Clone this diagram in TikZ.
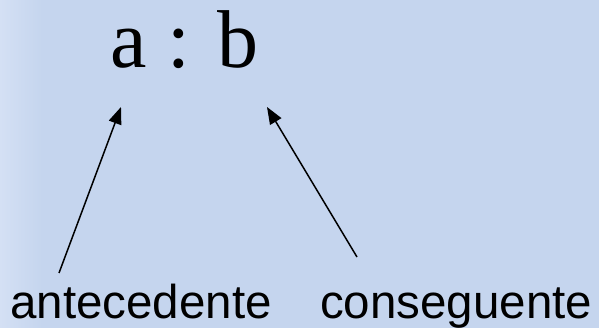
\documentclass[tikz,border=0pt]{standalone}
\usepackage{fontspec}
\setmainfont{Liberation Serif}
\newfontfamily\labelfont{Liberation Sans}
\usetikzlibrary{arrows.meta}
\definecolor{bgblue}{RGB}{197,213,238}
\definecolor{bgedge}{RGB}{212,224,244}
\begin{document}
\begin{tikzpicture}[x=1pt,y=-1pt,
  ratio/.style={inner sep=0pt,anchor=base west,font=\fontsize{82}{82}\selectfont},
  term/.style={inner sep=0pt,anchor=base west,font=\labelfont\fontsize{47.5}{47.5}\selectfont},
  pointer/.style={line width=1.5pt,-{Triangle[length=17pt,width=13pt]}}]
\useasboundingbox (0,0) rectangle (599,328);
\fill[bgblue] (0,0) rectangle (599,328);
\shade[left color=bgedge,right color=bgblue] (0,0) rectangle (42,328);
\node[ratio] (ab) at (110,68) {a : b};
\node[term] (ante) at (10,318) {antecedente};
\node[term] (cons) at (320,318) {conseguente};
\coordinate (tailA) at (59,273);
\coordinate (tipA) at (121,107);
\coordinate (tailB) at (357,257);
\coordinate (tipB) at (267,107);
\draw[pointer] (tailA) -- (tipA);
\draw[pointer] (tailB) -- (tipB);
\end{tikzpicture}
\end{document}
